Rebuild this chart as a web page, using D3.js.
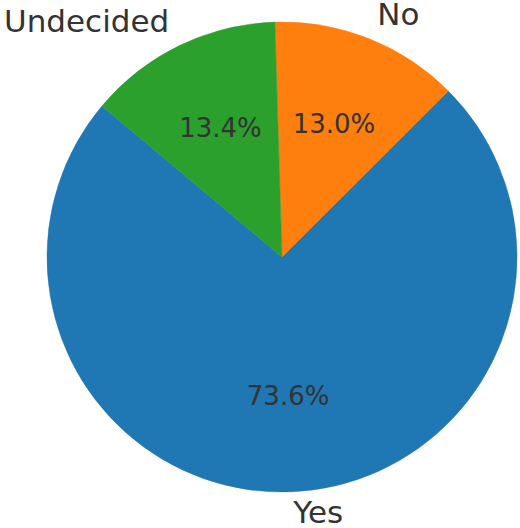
<!DOCTYPE html>
<html>
<head>
<meta charset="utf-8">
<script src="https://cdn.jsdelivr.net/npm/d3@7"></script>
<style>
  body { margin: 0; background: #fff; }
  svg text { font-family: "DejaVu Sans", sans-serif; fill: #333333; }
</style>
</head>
<body>
<div id="chart"></div>
<script>
// pie data
const labels = ['Yes', 'No', 'Undecided'];
const values = [73.6, 13.0, 13.4];
const colors = ['#1f77b4', '#ff7f0e', '#2ca02c'];

const width = 520;
const height = 528;
const cx = 282;
const cy = 257;
const radius = 235;

// matplotlib startangle=140, counter-clockwise
const start = -50 * Math.PI / 180;

const svg = d3.select('#chart')
  .append('svg')
  .attr('width', width)
  .attr('height', height);

const g = svg.append('g').attr('transform', `translate(${cx}, ${cy})`);

const pie = d3.pie()
  .sort(null)
  .value((d) => d)
  .startAngle(start)
  .endAngle(start - 2 * Math.PI);

const arcs = pie(values);
const arc = d3.arc().innerRadius(0).outerRadius(radius);

g.selectAll('path')
  .data(arcs)
  .join('path')
  .attr('d', arc)
  .attr('fill', (d, i) => colors[i])
  .attr('stroke', (d, i) => colors[i])
  .attr('stroke-width', 0.5);

function mid(d) { return (d.startAngle + d.endAngle) / 2; }

// outer labels
g.selectAll('text.label')
  .data(arcs)
  .join('text')
  .attr('class', 'label')
  .attr('x', (d) => Math.sin(mid(d)) * radius * 1.1)
  .attr('y', (d) => -Math.cos(mid(d)) * radius * 1.1)
  .attr('dy', '-0.1em')
  .attr('text-anchor', (d) => Math.sin(mid(d)) > 0 ? 'start' : 'end')
  .attr('dominant-baseline', 'central')
  .style('font-size', '31px')
  .text((d, i) => labels[i]);

// percentages
const fmt = d3.format('.1f');
g.selectAll('text.pct')
  .data(arcs)
  .join('text')
  .attr('class', 'pct')
  .attr('x', (d) => Math.sin(mid(d)) * radius * 0.6)
  .attr('y', (d) => -Math.cos(mid(d)) * radius * 0.6)
  .attr('dy', '-0.08em')
  .attr('text-anchor', 'middle')
  .attr('dominant-baseline', 'central')
  .style('font-size', '26px')
  .text((d) => fmt(d.value) + '%');
</script>
</body>
</html>
